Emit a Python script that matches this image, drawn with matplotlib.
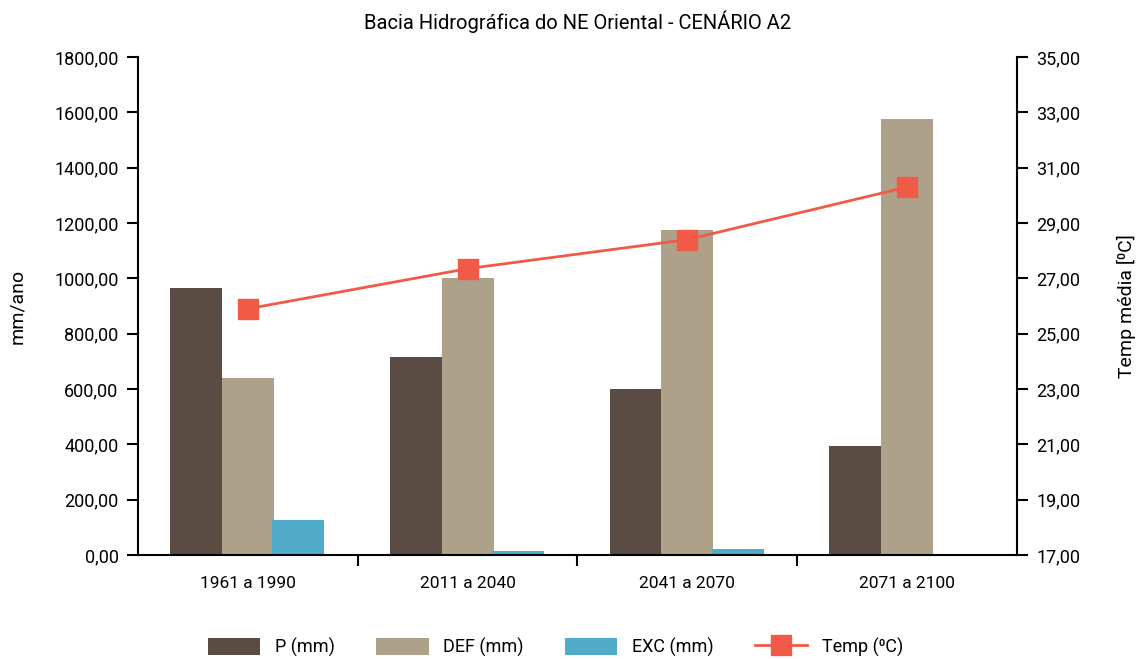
import matplotlib.pyplot as plt
import numpy as np
from matplotlib.ticker import FuncFormatter, FixedLocator

plt.rcParams['font.family'] = ['Roboto', 'DejaVu Sans']

# data
periods = ['1961 a 1990', '2011 a 2040', '2041 a 2070', '2071 a 2100']
p_mm = [965, 715, 600, 395]
def_mm = [640, 1000, 1175, 1575]
exc_mm = [125, 15, 22, 0]
temp = [25.9, 27.35, 28.4, 30.3]

c_p = '#5a4b43'
c_def = '#ada189'
c_exc = '#52abc8'
c_temp = '#f05a47'

fig = plt.figure(figsize=(11.42, 6.59), dpi=100)
ax = fig.add_axes([0.1208, 0.1578, 0.7697, 0.7557])
x = np.arange(len(periods))
w = 0.236

ax.bar(x - w, p_mm, w, color=c_p, label='P (mm)')
ax.bar(x, def_mm, w, color=c_def, label='DEF (mm)')
ax.bar(x + w * 0.97, exc_mm, w, color=c_exc, label='EXC (mm)')

fmt = FuncFormatter(lambda v, _: f'{v:.2f}'.replace('.', ','))

ax.set_xlim(-0.5, 3.5)
ax.set_ylim(0, 1800)
ax.set_yticks(np.arange(0, 1801, 200))
ax.yaxis.set_major_formatter(fmt)
ax.set_ylabel('mm/ano', fontsize=14, labelpad=20)
ax.set_xticks(x)
ax.set_xticklabels(periods, fontsize=12.5)
ax.tick_params(axis='x', length=0, pad=15)
ax.xaxis.set_minor_locator(FixedLocator([0.5, 1.5, 2.5]))
ax.tick_params(axis='x', which='minor', length=8, width=1.5, direction='out')
ax.tick_params(axis='y', length=8, width=1.5, labelsize=13, direction='out', pad=6)
ax.spines['top'].set_visible(False)
ax.spines['right'].set_visible(False)
for s in ['left', 'bottom']:
    ax.spines[s].set_linewidth(1.5)

ax2 = ax.twinx()
ax2.plot(x, temp, color=c_temp, lw=2, marker='s', ms=14, label='Temp (⁰C)')
ax2.set_ylim(17, 35)
ax2.set_yticks(np.arange(17, 35.1, 2))
ax2.yaxis.set_major_formatter(fmt)
ax2.set_ylabel('Temp média [⁰C]', fontsize=14, labelpad=26)
ax2.tick_params(axis='y', length=8, width=1.5, labelsize=13, direction='out', pad=6)
ax2.spines['top'].set_visible(False)
ax2.spines['left'].set_visible(False)
ax2.spines['bottom'].set_visible(False)
ax2.spines['right'].set_linewidth(1.5)

ax.set_title('Bacia Hidrográfica do NE Oriental - CENÁRIO A2', fontsize=14.5, pad=20)

h1, l1 = ax.get_legend_handles_labels()
h2, l2 = ax2.get_legend_handles_labels()
fig.legend(h1 + h2, l1 + l2, loc='center', bbox_to_anchor=(0.4864, 0.018), ncol=4,
           frameon=False, fontsize=13, handlelength=2.9, handleheight=1.1,
           columnspacing=2.3, handletextpad=0.8)

fig.savefig('out.png', dpi=100)
